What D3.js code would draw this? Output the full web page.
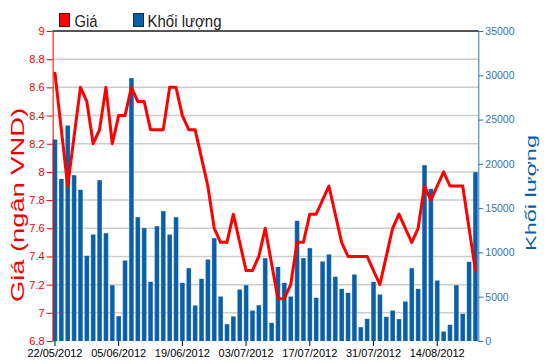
<!DOCTYPE html>
<html>
<head>
<meta charset="utf-8">
<script src="https://cdn.jsdelivr.net/npm/d3@7"></script>
<style>
  body { margin: 0; background: #fff; }
  svg { display: block; font-family: "Liberation Sans", Arial, sans-serif; }
</style>
</head>
<body>
<svg id="chart" width="550" height="364"></svg>
<script>
// trading days shown on the chart
var dates = [
  "22/05/2012","23/05/2012","24/05/2012","25/05/2012","28/05/2012","29/05/2012","30/05/2012","31/05/2012",
  "01/06/2012","04/06/2012","05/06/2012","06/06/2012","07/06/2012","08/06/2012","11/06/2012","12/06/2012",
  "13/06/2012","14/06/2012","15/06/2012","18/06/2012","19/06/2012","20/06/2012","21/06/2012","22/06/2012",
  "25/06/2012","26/06/2012","27/06/2012","28/06/2012","29/06/2012","02/07/2012","03/07/2012","04/07/2012",
  "05/07/2012","06/07/2012","09/07/2012","10/07/2012","11/07/2012","12/07/2012","13/07/2012","16/07/2012",
  "17/07/2012","18/07/2012","19/07/2012","20/07/2012","23/07/2012","24/07/2012","25/07/2012","26/07/2012",
  "27/07/2012","30/07/2012","31/07/2012","01/08/2012","02/08/2012","03/08/2012","06/08/2012","07/08/2012",
  "08/08/2012","09/08/2012","10/08/2012","13/08/2012","14/08/2012","15/08/2012","16/08/2012","17/08/2012",
  "20/08/2012","21/08/2012","22/08/2012"
];

// price (thousand VND)
var prices = [
  8.7, 8.3, 7.9, 8.25, 8.6, 8.5, 8.2, 8.3, 8.6, 8.2,
  8.4, 8.4, 8.6, 8.5, 8.5, 8.3, 8.3, 8.3, 8.6, 8.6,
  8.4, 8.3, 8.3, 8.1, 7.9, 7.6, 7.5, 7.5, 7.7, 7.5,
  7.3, 7.3, 7.4, 7.6, 7.35, 7.1, 7.1, 7.2, 7.5, 7.5,
  7.7, 7.7, 7.8, 7.9, 7.7, 7.5, 7.4, 7.4, 7.4, 7.4,
  7.3, 7.2, 7.4, 7.6, 7.7, 7.6, 7.5, 7.6, 7.9, 7.8,
  7.9, 8.0, 7.9, 7.9, 7.9, 7.6, 7.3
];

// volume
var volumes = [
  22750, 18300, 24330, 18720, 17070, 9620, 12020, 18160, 12170, 6300,
  2800, 9090, 29670, 13980, 12740, 6680, 12960, 14660, 12020, 13980,
  6570, 8220, 4010, 7020, 9200, 11610, 5020, 1900, 2770, 5810,
  6300, 3440, 4040, 9350, 2050, 8370, 6570, 5020, 13570, 9350,
  10480, 4880, 8980, 9770, 7250, 5890, 5440, 7510, 1560, 2500,
  6680, 5250, 2730, 3440, 2470, 4460, 8220, 5890, 19850, 17180,
  6830, 1070, 1830, 6300, 3070, 8940, 19060
];

var priceTicks = [6.8, 7, 7.2, 7.4, 7.6, 7.8, 8, 8.2, 8.4, 8.6, 8.8, 9];
var priceTickLabels = ["6.8", "7", "7.2", "7.4", "7.6", "7.8", "8", "8.2", "8.4", "8.6", "8.8", "9"];
var volumeTicks = [0, 5000, 10000, 15000, 20000, 25000, 30000, 35000];
var volumeTickLabels = ["0", "5000", "10000", "15000", "20000", "25000", "30000", "35000"];
var dateTicks = ["22/05/2012", "05/06/2012", "19/06/2012", "03/07/2012", "17/07/2012", "31/07/2012", "14/08/2012"];

(function(){
  var svg, x, yPrice, yVol,
    plotLeft = 52.6, plotRight = 477.8, plotTop = 31, plotBottom = 341,
    red = "#ee0000", blue = "#0c5ea6", axisBlue = "#2a78bb";

  function init(){
    svg = d3.select("#chart");
    initScales();
    drawGrid();
    drawBars();
    drawLine();
    addAxis();
    drawLegend();
  }

  function initScales(){
    x = d3.scaleBand().domain(dates).range([plotLeft, plotRight]).paddingInner(0.26).paddingOuter(0);
    yPrice = d3.scaleLinear().domain([6.8, 9]).range([plotBottom, plotTop]);
    yVol = d3.scaleLinear().domain([0, 35000]).range([plotBottom, plotTop]);
  }

  function drawGrid(){
    svg.append("g").selectAll("line")
      .data(priceTicks.slice(1, -1))
      .join("line")
        .attr("x1", plotLeft).attr("x2", plotRight + 1)
        .attr("y1", function(d){ return yPrice(d); })
        .attr("y2", function(d){ return yPrice(d); })
        .attr("stroke", "#cdcdcd")
        .attr("stroke-width", 1.5);
  }

  function drawBars(){
    var grad = svg.append("defs").append("linearGradient")
      .attr("id", "barGrad").attr("x1", 0).attr("x2", 1).attr("y1", 0).attr("y2", 0);
    grad.append("stop").attr("offset", "0%").attr("stop-color", "#3f8ccc");
    grad.append("stop").attr("offset", "22%").attr("stop-color", blue);
    grad.append("stop").attr("offset", "80%").attr("stop-color", blue);
    grad.append("stop").attr("offset", "100%").attr("stop-color", "#2a7cc0");

    svg.append("g").selectAll("rect")
      .data(volumes)
      .join("rect")
        .attr("x", function(d, i){ return x(dates[i]); })
        .attr("y", function(d){ return yVol(d); })
        .attr("width", x.bandwidth())
        .attr("height", function(d){ return yVol(0) - yVol(d); })
        .attr("fill", "url(#barGrad)");
  }

  function drawLine(){
    var line = d3.line()
      .x(function(d, i){ return x(dates[i]) + x.bandwidth() / 2; })
      .y(function(d){ return yPrice(d); });

    svg.append("path")
      .datum(prices)
      .attr("fill", "none")
      .attr("stroke", "#ff0000")
      .attr("stroke-width", 3)
      .attr("stroke-linejoin", "round")
      .attr("stroke-linecap", "round")
      .attr("d", line);
  }

  function addAxis(){
    // top border
    svg.append("line")
      .attr("x1", plotLeft).attr("x2", plotRight + 1)
      .attr("y1", plotTop).attr("y2", plotTop)
      .attr("stroke", "#555").attr("stroke-width", 2);

    var yAxisLeft = d3.axisLeft(yPrice)
      .tickValues(priceTicks)
      .tickFormat(function(d, i){ return priceTickLabels[i]; })
      .tickSize(6).tickSizeOuter(0).tickPadding(2);

    var gl = svg.append("g")
      .attr("transform", "translate(" + plotLeft + ",0)")
      .call(yAxisLeft);
    gl.select(".domain").attr("stroke", red);
    gl.selectAll(".tick line").attr("stroke", red);
    gl.selectAll(".tick text").attr("fill", red).attr("font-size", 11).attr("font-family", null);

    var yAxisRight = d3.axisRight(yVol)
      .tickValues(volumeTicks)
      .tickFormat(function(d, i){ return volumeTickLabels[i]; })
      .tickSize(5).tickSizeOuter(0).tickPadding(2);

    var gr = svg.append("g")
      .attr("transform", "translate(" + (plotRight + 0.5) + ",0)")
      .call(yAxisRight);
    gr.select(".domain").attr("stroke", axisBlue);
    gr.selectAll(".tick line").attr("stroke", axisBlue);
    gr.selectAll(".tick text").attr("fill", axisBlue).attr("font-size", 10.5).attr("font-family", null);

    var xAxis = d3.axisBottom(x)
      .tickValues(dateTicks)
      .tickSize(5).tickSizeOuter(0).tickPadding(3);

    var gx = svg.append("g")
      .attr("transform", "translate(0," + plotBottom + ")")
      .call(xAxis);
    gx.select(".domain").remove();
    gx.selectAll(".tick line").attr("stroke", "#000");
    gx.selectAll(".tick text").attr("fill", "#000").attr("font-size", 11).attr("font-family", null);

    // axis titles
    svg.append("text")
      .attr("transform", "translate(24,205) rotate(-90)")
      .attr("text-anchor", "middle")
      .attr("fill", red)
      .attr("font-size", 18)
      .attr("textLength", 194)
      .attr("lengthAdjust", "spacingAndGlyphs")
      .text("Giá (ngân VND)");

    svg.append("text")
      .attr("transform", "translate(536,193) rotate(-90)")
      .attr("text-anchor", "middle")
      .attr("fill", blue)
      .attr("font-size", 15)
      .attr("textLength", 116)
      .attr("lengthAdjust", "spacingAndGlyphs")
      .text("Khối lượng");
  }

  function drawLegend(){
    var items = [
      {name: "Giá", color: "#ff0000", border: "#7a0000", x: 59.5, tx: 74.5, w: 23},
      {name: "Khối lượng", color: blue, border: "#062f55", x: 133.5, tx: 147.5, w: 74}
    ];
    var g = svg.append("g");
    g.selectAll("rect")
      .data(items)
      .join("rect")
        .attr("x", function(d){ return d.x; })
        .attr("y", 13.5)
        .attr("width", 10)
        .attr("height", 13)
        .attr("fill", function(d){ return d.color; })
        .attr("stroke", function(d){ return d.border; })
        .attr("stroke-width", 1);
    g.selectAll("text")
      .data(items)
      .join("text")
        .attr("x", function(d){ return d.tx; })
        .attr("y", 26.5)
        .attr("fill", "#222")
        .attr("font-size", 17)
        .attr("textLength", function(d){ return d.w; })
        .attr("lengthAdjust", "spacingAndGlyphs")
        .text(function(d){ return d.name; });
  }

  init();
})();
</script>
</body>
</html>
